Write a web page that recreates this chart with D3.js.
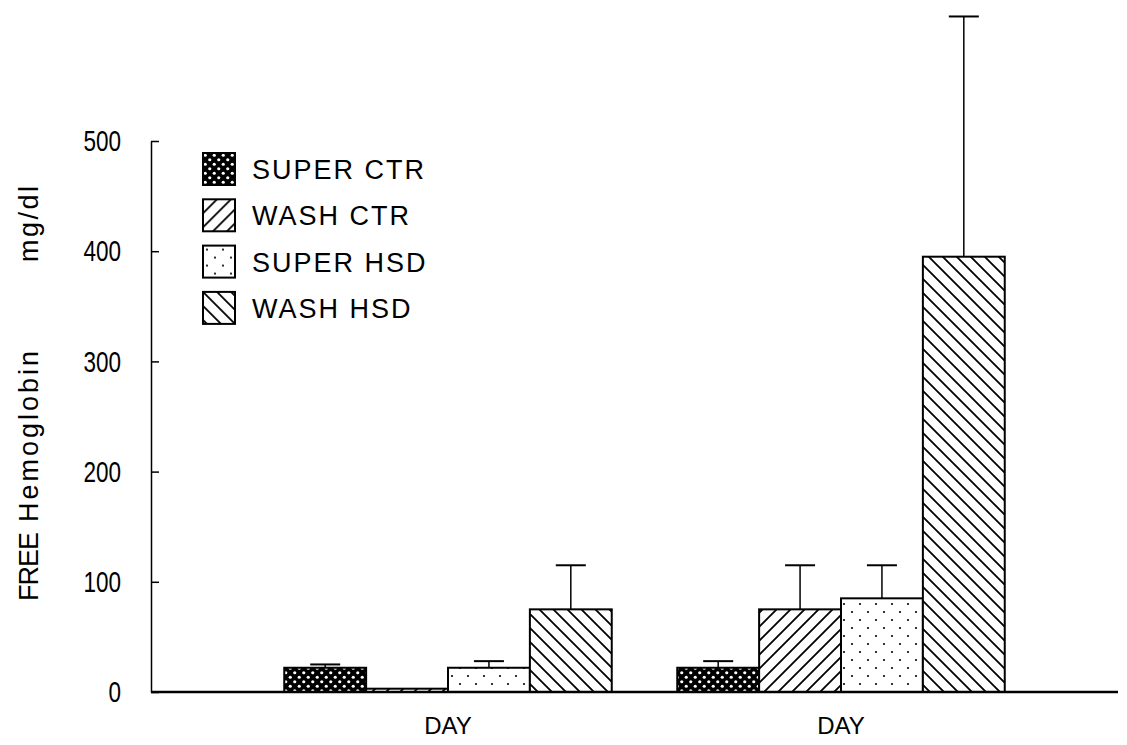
<!DOCTYPE html>
<html>
<head>
<meta charset="utf-8">
<script src="https://cdn.jsdelivr.net/npm/d3@7"></script>
<style>
  body { margin: 0; background: #fff; }
  text { font-family: "Liberation Sans", Arial, sans-serif; fill: #000; }
</style>
</head>
<body>
<div id="chart"></div>
<script>
// values
const series = ["SUPER CTR", "WASH CTR", "SUPER HSD", "WASH HSD"];
const groupIds = ["day1", "day2"];
const groupLabels = ["DAY", "DAY"];
const meansDay1 = [22, 3, 22, 75];
const meansDay2 = [22, 75, 85, 395];
const sdDay1 = [3, 0, 6, 40];
const sdDay2 = [6, 40, 30, 218];
const yTicks = [0, 100, 200, 300, 400, 500];

const width = 1127, height = 745;
const axisX = 151, baseY = 692, topY = 141, rightX = 1118;

const svg = d3.select("#chart").append("svg")
    .attr("width", width)
    .attr("height", height);

// fill patterns
const defs = svg.append("defs");

const pDense = defs.append("pattern").attr("id", "p0")
    .attr("patternUnits", "userSpaceOnUse").attr("width", 9).attr("height", 9);
pDense.append("rect").attr("width", 9).attr("height", 9).attr("fill", "#000");
pDense.append("circle").attr("cx", 2.25).attr("cy", 2.25).attr("r", 1.6).attr("fill", "#fff");
pDense.append("circle").attr("cx", 6.75).attr("cy", 6.75).attr("r", 1.6).attr("fill", "#fff");

const pFwd = defs.append("pattern").attr("id", "p1")
    .attr("patternUnits", "userSpaceOnUse").attr("width", 14).attr("height", 14);
pFwd.append("rect").attr("width", 14).attr("height", 14).attr("fill", "#fff");
pFwd.append("path").attr("d", "M0,14L14,0M-7,7L7,-7M7,21L21,7")
    .attr("stroke", "#000").attr("stroke-width", 1.8);

const pDots = defs.append("pattern").attr("id", "p2")
    .attr("patternUnits", "userSpaceOnUse").attr("width", 16).attr("height", 16);
pDots.append("rect").attr("width", 16).attr("height", 16).attr("fill", "#fff");
pDots.append("circle").attr("cx", 4).attr("cy", 4).attr("r", 1.1).attr("fill", "#000");
pDots.append("circle").attr("cx", 12).attr("cy", 12).attr("r", 1.1).attr("fill", "#000");

const pBack = defs.append("pattern").attr("id", "p3")
    .attr("patternUnits", "userSpaceOnUse").attr("width", 14).attr("height", 14);
pBack.append("rect").attr("width", 14).attr("height", 14).attr("fill", "#fff");
pBack.append("path").attr("d", "M0,0L14,14M-7,7L7,21M7,-7L21,7")
    .attr("stroke", "#000").attr("stroke-width", 1.8);

const fills = ["url(#p0)", "url(#p1)", "url(#p2)", "url(#p3)"];

// scales
const y = d3.scaleLinear().domain([0, 500]).range([baseY, topY]);
const x0 = d3.scaleBand().domain(groupIds).range([251.5, 1037.5]).padding(0);
const x1 = d3.scaleBand().domain(series).range([0, x0.bandwidth()])
    .paddingInner(0).paddingOuter(0.4);

const rows = [];
[meansDay1, meansDay2].forEach((m, gi) => {
    const sd = gi === 0 ? sdDay1 : sdDay2;
    series.forEach((s, si) => {
        rows.push({group: groupIds[gi], series: s, idx: si, value: m[si], sd: sd[si]});
    });
});

// bars
const bars = svg.append("g").attr("class", "bars");
bars.selectAll("rect")
    .data(rows)
    .enter().append("rect")
    .attr("x", d => x0(d.group) + x1(d.series))
    .attr("y", d => y(d.value))
    .attr("width", x1.bandwidth())
    .attr("height", d => y(0) - y(d.value))
    .attr("fill", d => fills[d.idx])
    .attr("stroke", "#000")
    .attr("stroke-width", 2);

// upper error bars
const errs = svg.append("g").attr("class", "errors")
    .selectAll("g")
    .data(rows.filter(d => d.sd > 0))
    .enter().append("g")
    .attr("transform", d => "translate(" + (x0(d.group) + x1(d.series) + x1.bandwidth() / 2) + ",0)");
errs.append("line")
    .attr("y1", d => y(d.value)).attr("y2", d => y(d.value + d.sd))
    .attr("stroke", "#000").attr("stroke-width", 1.5);
errs.append("line")
    .attr("x1", -15).attr("x2", 15)
    .attr("y1", d => y(d.value + d.sd)).attr("y2", d => y(d.value + d.sd))
    .attr("stroke", "#000").attr("stroke-width", 2);

// y axis
const yAxis = svg.append("g")
    .attr("transform", "translate(" + axisX + ",0)")
    .call(d3.axisLeft(y).tickValues(yTicks).tickSizeInner(-8).tickSizeOuter(0).tickPadding(40));
yAxis.select(".domain").attr("stroke-width", 1.5);
yAxis.selectAll(".tick line").attr("stroke-width", 1.5);
// the digits in the figure are tall and narrow
yAxis.selectAll(".tick text")
    .style("font-size", "30px")
    .attr("transform", "scale(0.75,1)");

// x axis baseline and labels
svg.append("line")
    .attr("x1", axisX).attr("x2", rightX)
    .attr("y1", baseY).attr("y2", baseY)
    .attr("stroke", "#000").attr("stroke-width", 2.5);

const xAxis = svg.append("g")
    .attr("transform", "translate(0," + baseY + ")")
    .call(d3.axisBottom(x0).tickSize(0).tickPadding(25).tickFormat((d, i) => groupLabels[i]));
xAxis.select(".domain").remove();
xAxis.selectAll(".tick text").style("font-size", "24px");

// y title
const title = svg.append("text")
    .attr("transform", "translate(38,0) rotate(-90)")
    .style("font-size", "27px");
title.append("tspan").attr("x", -601).style("letter-spacing", "-1px").text("FREE");
title.append("tspan").attr("x", -522).style("letter-spacing", "3px").text("Hemoglobin");
title.append("tspan").attr("x", -262).style("letter-spacing", "2.5px").text("mg/dl");

// legend
const legend = svg.append("g").attr("class", "legend")
    .selectAll("g")
    .data(series)
    .enter().append("g")
    .attr("transform", (d, i) => "translate(203," + (153 + i * 46.3) + ")");
legend.append("rect")
    .attr("width", 32).attr("height", 32)
    .attr("fill", (d, i) => fills[i])
    .attr("stroke", "#000").attr("stroke-width", 2);
legend.append("text")
    .attr("x", 49).attr("y", 26)
    .style("font-size", "27px")
    .style("letter-spacing", "2px")
    .text(d => d);
</script>
</body>
</html>
